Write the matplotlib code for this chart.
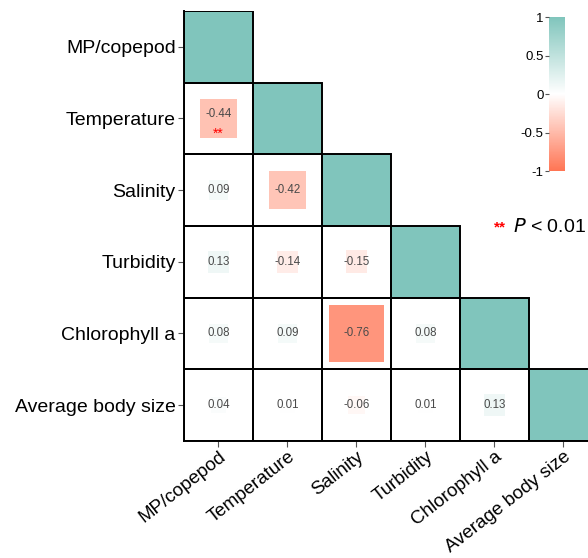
import numpy as np
import matplotlib
matplotlib.use("Agg")
import matplotlib.pyplot as plt
from matplotlib.colors import LinearSegmentedColormap, Normalize
from matplotlib.patches import Rectangle
from matplotlib.colorbar import ColorbarBase

plt.rcParams['font.family'] = ['Liberation Sans', 'DejaVu Sans']

variables = ["MP/copepod", "Temperature", "Salinity", "Turbidity",
             "Chlorophyll a", "Average body size"]

# lower triangle of the correlation matrix, row by row
corr_rows = [
    [1.0],
    [-0.44, 1.0],
    [0.09, -0.42, 1.0],
    [0.13, -0.14, -0.15, 1.0],
    [0.08, 0.09, -0.76, 0.08, 1.0],
    [0.04, 0.01, -0.06, 0.01, 0.13, 1.0],
]
# significance marks (row, col) -> stars
signif = {(1, 0): "**"}

cmap = LinearSegmentedColormap.from_list("corr", ["#FF7554", "#FFFFFF", "#80C5BC"])
norm = Normalize(-1, 1)

fig = plt.figure(figsize=(5.88, 5.58), dpi=100)
ax = fig.add_axes([0.3129, 0.2097, 0.7041, 0.7706])

n = len(variables)
for i, row in enumerate(corr_rows):
    for j, r in enumerate(row):
        color = cmap(norm(r))
        if i == j:
            ax.add_patch(Rectangle((j, i), 1, 1, facecolor=color, edgecolor="none"))
        else:
            side = 0.2 + 0.78 * abs(r)
            off = (1 - side) / 2
            ax.add_patch(Rectangle((j + off, i + off), side, side,
                                   facecolor=color, edgecolor="none"))
            ytxt = i + 0.44 if (i, j) in signif else i + 0.5
            ax.text(j + 0.5, ytxt, f"{r:.2f}", ha="center", va="center",
                    fontsize=8.3, color="#4a4a4a")
            if (i, j) in signif:
                ax.text(j + 0.5, i + 0.71, signif[(i, j)], ha="center",
                        va="center", fontsize=10, color="red")
        # cell frame
        ax.add_patch(Rectangle((j, i), 1, 1, facecolor="none",
                               edgecolor="black", linewidth=1.4, zorder=3))

ax.set_xlim(0, n)
ax.set_ylim(n, 0)
ax.set_xticks(np.arange(n) + 0.5)
ax.set_yticks(np.arange(n) + 0.5)
ax.set_xticklabels(variables, rotation=38, ha="right", rotation_mode="anchor",
                   fontsize=13.5)
ax.set_yticklabels(variables, fontsize=14)
ax.tick_params(length=4, color="#555555", width=0.8, pad=2)
ax.tick_params(axis="x", pad=1)
for s in ["top", "right"]:
    ax.spines[s].set_visible(False)
for s in ["left", "bottom"]:
    ax.spines[s].set_linewidth(1.4)

# colour key
cax = fig.add_axes([0.9337, 0.6935, 0.0272, 0.276])
cb = ColorbarBase(cax, cmap=cmap, norm=norm, ticks=[-1, -0.5, 0, 0.5, 1])
cb.outline.set_visible(False)
cb.ax.yaxis.set_ticks_position("left")
cb.ax.set_yticklabels(["-1", "-0.5", "0", "0.5", "1"])
cb.ax.tick_params(labelsize=9.5, length=3, color="#555555", width=0.8, pad=1)

fig.text(0.840, 0.593, "**", color="red", fontsize=11, fontweight="bold",
         va="center", ha="left")
fig.text(0.872, 0.593, r"$\it{P}$ < 0.01", fontsize=14, va="center", ha="left")

fig.savefig("out.png", dpi=100)
